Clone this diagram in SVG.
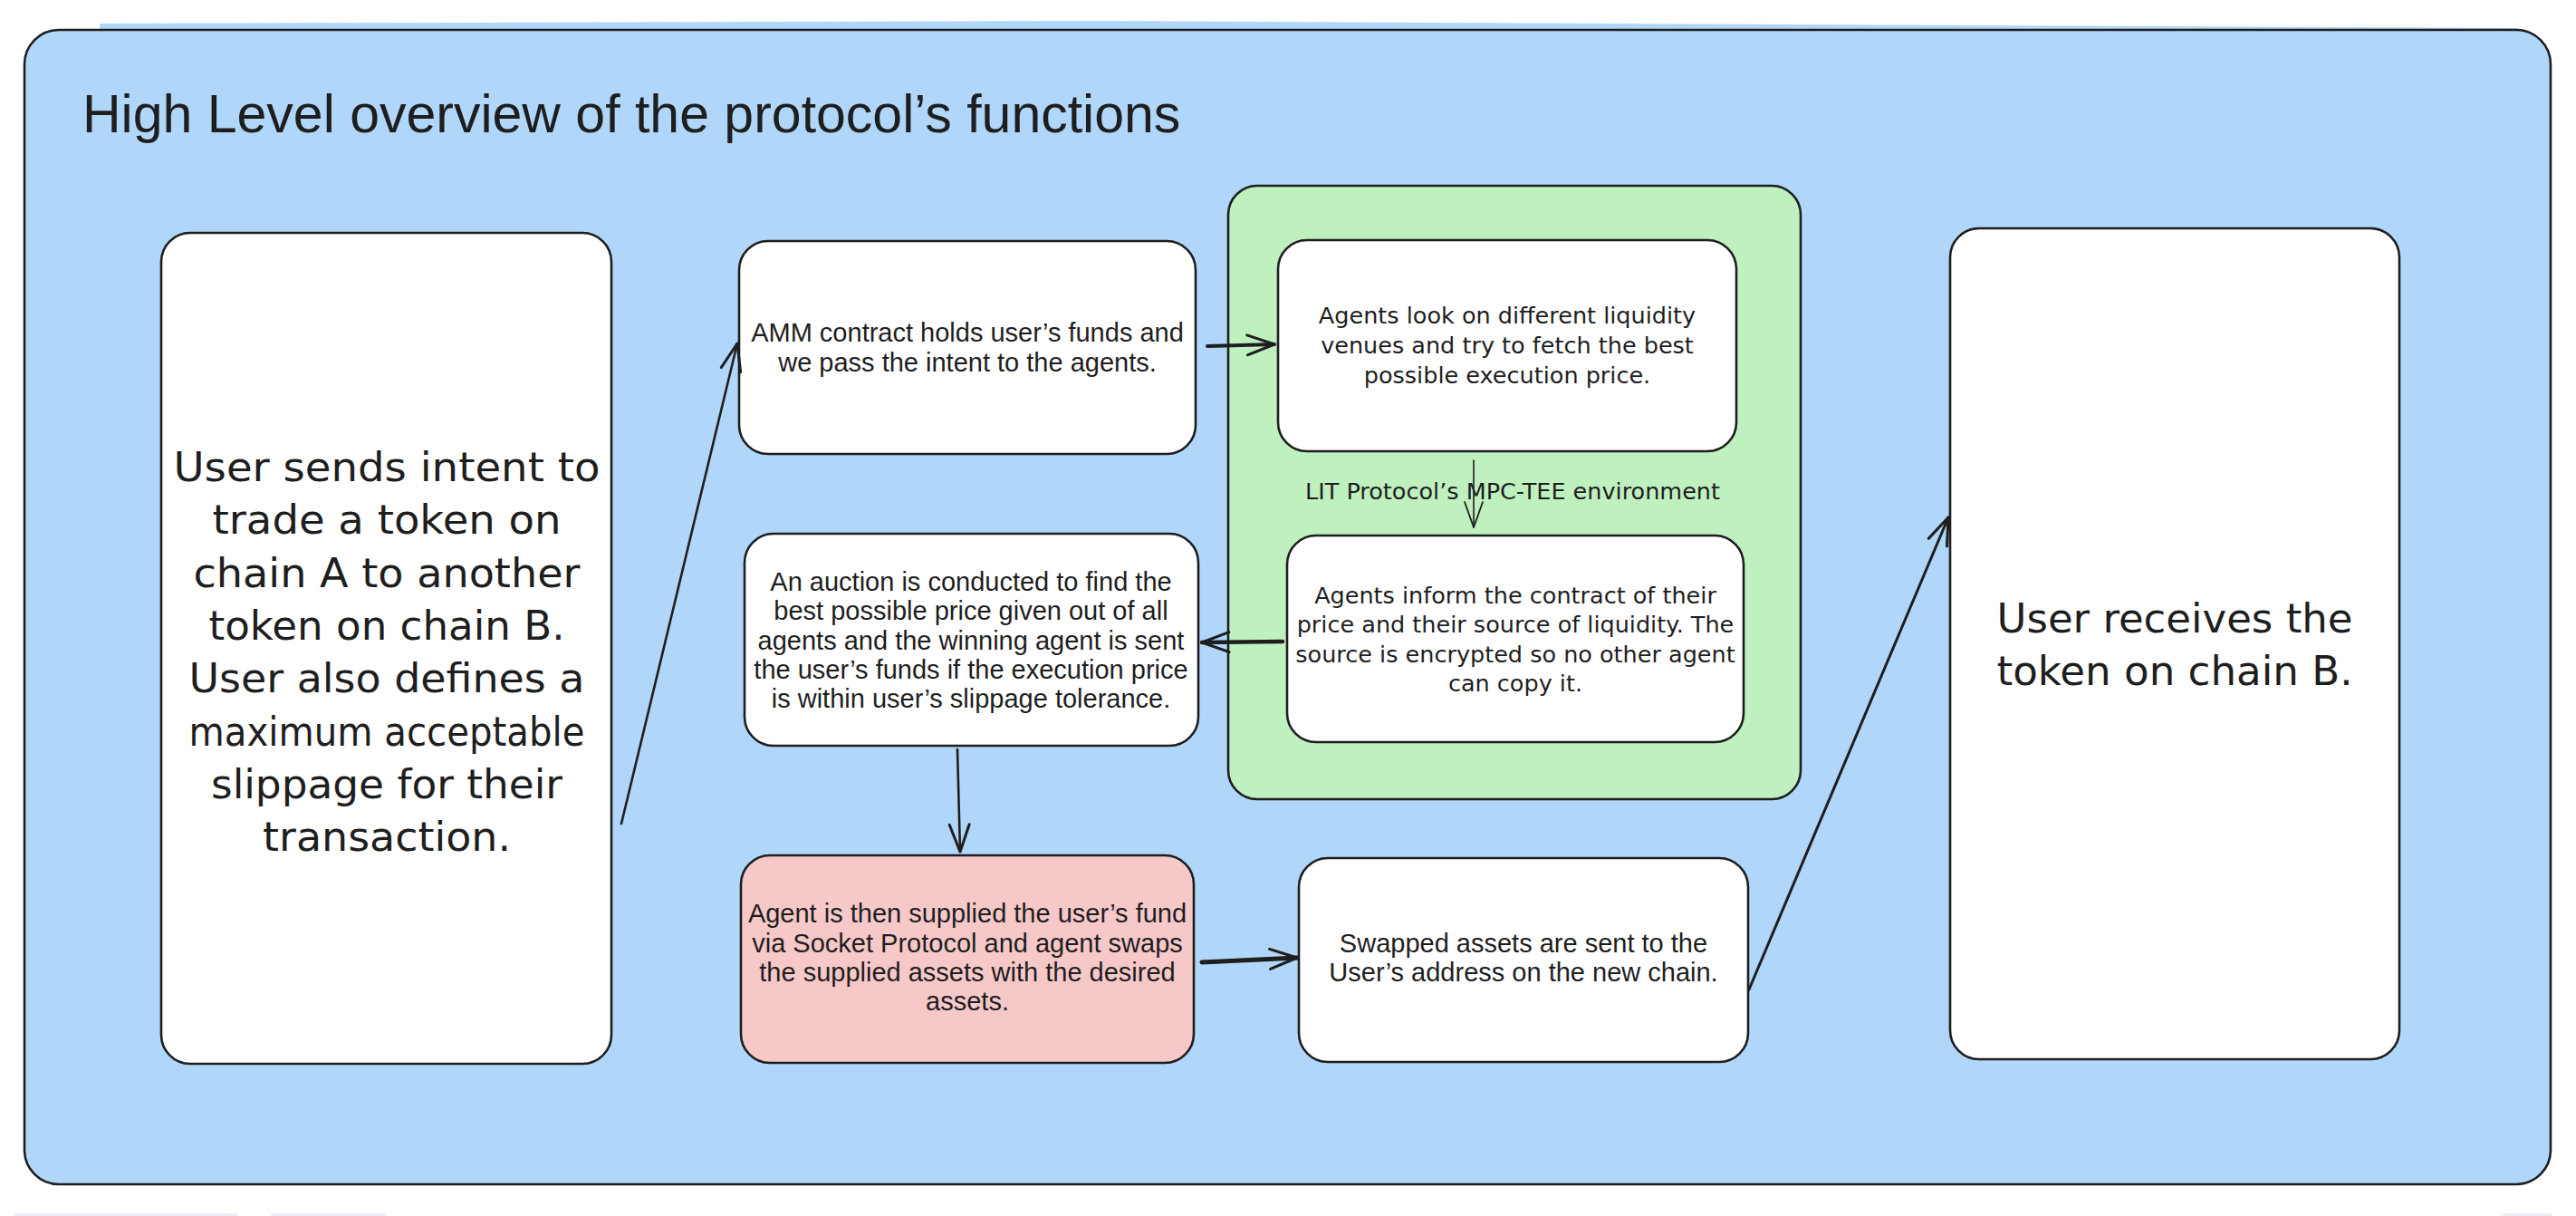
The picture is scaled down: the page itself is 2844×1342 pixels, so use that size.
<svg xmlns="http://www.w3.org/2000/svg" width="2844" height="1342" viewBox="0 0 2844 1342">
  <defs>
    <style>
      .box { stroke: #1e1e1e; stroke-width: 2.6; stroke-linejoin: round; }
      .white { fill: #ffffff; }
      .pink { fill: #f7c8c8; }
      .green { fill: #bff0bf; }
      .blue { fill: #b0d6fa; }
      .conn { fill: none; stroke: #1e1e1e; stroke-linecap: round; stroke-linejoin: round; }
      .v { font-family: "Liberation Sans", Arial, sans-serif; font-size: 29px; fill: #1e1e1e; text-anchor: middle; }
      .e { font-family: "DejaVu Sans", "Liberation Sans", sans-serif; font-size: 25.5px; fill: #1e1e1e; text-anchor: middle; }
      .eb { font-family: "DejaVu Sans", "Liberation Sans", sans-serif; font-size: 45px; fill: #1e1e1e; text-anchor: middle; }
      .title { font-family: "Liberation Sans", Arial, sans-serif; font-size: 59px; fill: #1e1e1e; }
    </style>
    <marker id="ah" markerUnits="userSpaceOnUse" markerWidth="60" markerHeight="60" refX="0" refY="0" orient="auto" overflow="visible" viewBox="-40 -30 60 60">
      <path d="M-30,-11 L0,0 L-30,11" fill="none" stroke="#1e1e1e" stroke-width="3" stroke-linecap="round" stroke-linejoin="round"/>
    </marker>
    <marker id="ahThin" markerUnits="userSpaceOnUse" markerWidth="60" markerHeight="60" refX="0" refY="0" orient="auto" overflow="visible" viewBox="-40 -30 60 60">
      <path d="M-28,-10 L0,0 L-28,10" fill="none" stroke="#1e1e1e" stroke-width="1.8" stroke-linecap="round" stroke-linejoin="round"/>
    </marker>
  </defs>

  <rect x="0" y="0" width="2844" height="1342" fill="#ffffff"/>

  <!-- faint partial shapes at the bottom edge -->
  <g id="bottom-edge" fill="#ececf4">
    <rect x="15" y="1339" width="249" height="12" rx="5"/>
    <rect x="298" y="1339" width="129" height="12" rx="5"/>
    <rect x="2762" y="1339" width="57" height="12" rx="5"/>
  </g>

  <g id="frame">
    <path d="M110,26 L1200,23 L2780,31 L2780,40 L110,40 Z" class="blue"/>
    <rect x="27" y="33" width="2789" height="1274" rx="38" class="box blue" stroke-width="3"/>
    <text class="title" x="91" y="146">High Level overview of the protocol’s functions</text>
  </g>

  <g id="tee-environment">
    <rect x="1356" y="205" width="632" height="677" rx="32" class="box green"/>
    <text class="e" x="1670" y="551" font-size="26">LIT Protocol’s MPC-TEE environment</text>
  </g>

  <g id="user-intent">
    <rect x="178" y="257" width="497" height="917" rx="32" class="box white"/>
    <text class="eb" x="427" y="531" textLength="471" lengthAdjust="spacingAndGlyphs">User sends intent to</text>
    <text class="eb" x="427" y="589" textLength="385" lengthAdjust="spacingAndGlyphs">trade a token on</text>
    <text class="eb" x="427" y="648" textLength="427" lengthAdjust="spacingAndGlyphs">chain A to another</text>
    <text class="eb" x="427" y="706" textLength="393" lengthAdjust="spacingAndGlyphs">token on chain B.</text>
    <text class="eb" x="427" y="764" textLength="437" lengthAdjust="spacingAndGlyphs">User also defines a</text>
    <text class="eb" x="427" y="823" textLength="437" lengthAdjust="spacingAndGlyphs">maximum acceptable</text>
    <text class="eb" x="427" y="881" textLength="388" lengthAdjust="spacingAndGlyphs">slippage for their</text>
    <text class="eb" x="427" y="939" textLength="274" lengthAdjust="spacingAndGlyphs">transaction.</text>
  </g>

  <g id="amm-contract">
    <rect x="816" y="266" width="504" height="235" rx="32" class="box white"/>
    <text class="v" x="1068" y="377">AMM contract holds user’s funds and</text>
    <text class="v" x="1068" y="410">we pass the intent to the agents.</text>
  </g>

  <g id="agents-look">
    <rect x="1411" y="265" width="506" height="233" rx="32" class="box white"/>
    <text class="e" x="1664" y="357">Agents look on different liquidity</text>
    <text class="e" x="1664" y="390">venues and try to fetch the best</text>
    <text class="e" x="1664" y="423">possible execution price.</text>
  </g>

  <g id="agents-inform">
    <rect x="1421" y="591" width="504" height="228" rx="32" class="box white"/>
    <text class="e" x="1673" y="666">Agents inform the contract of their</text>
    <text class="e" x="1673" y="698">price and their source of liquidity. The</text>
    <text class="e" x="1673" y="731">source is encrypted so no other agent</text>
    <text class="e" x="1673" y="763">can copy it.</text>
  </g>

  <g id="auction">
    <rect x="822" y="589" width="501" height="234" rx="32" class="box white"/>
    <text class="v" x="1072" y="652">An auction is conducted to find the</text>
    <text class="v" x="1072" y="684">best possible price given out of all</text>
    <text class="v" x="1072" y="717">agents and the winning agent is sent</text>
    <text class="v" x="1072" y="749">the user’s funds if the execution price</text>
    <text class="v" x="1072" y="781">is within user’s slippage tolerance.</text>
  </g>

  <g id="agent-swap">
    <rect x="818" y="944" width="500" height="229" rx="32" class="box pink"/>
    <text class="v" x="1068" y="1018">Agent is then supplied the user’s fund</text>
    <text class="v" x="1068" y="1051">via Socket Protocol and agent swaps</text>
    <text class="v" x="1068" y="1083">the supplied assets with the desired</text>
    <text class="v" x="1068" y="1115">assets.</text>
  </g>

  <g id="swapped-assets">
    <rect x="1434" y="947" width="496" height="225" rx="32" class="box white"/>
    <text class="v" x="1682" y="1051">Swapped assets are sent to the</text>
    <text class="v" x="1682" y="1083">User’s address on the new chain.</text>
  </g>

  <g id="user-receives">
    <rect x="2153" y="252" width="496" height="917" rx="32" class="box white"/>
    <text class="eb" x="2401" y="698" textLength="393" lengthAdjust="spacingAndGlyphs">User receives the</text>
    <text class="eb" x="2401" y="756" textLength="393" lengthAdjust="spacingAndGlyphs">token on chain B.</text>
  </g>

  <g id="connectors">
    <path class="conn" d="M686,909 L814,379" stroke-width="2.6" marker-end="url(#ah)"/>
    <path class="conn" d="M1333,382 L1407,380" stroke-width="4" marker-end="url(#ah)"/>
    <path class="conn" d="M1627,508 L1627,582" stroke-width="1.6" marker-end="url(#ahThin)"/>
    <path class="conn" d="M1416,708 L1327,709" stroke-width="4.5" marker-end="url(#ah)"/>
    <path class="conn" d="M1057,827 L1060,940" stroke-width="2.6" marker-end="url(#ah)"/>
    <path class="conn" d="M1327,1062 L1432,1057" stroke-width="5" marker-end="url(#ah)"/>
    <path class="conn" d="M1931,1092 L2151,571" stroke-width="3" marker-end="url(#ah)"/>
  </g>
</svg>
